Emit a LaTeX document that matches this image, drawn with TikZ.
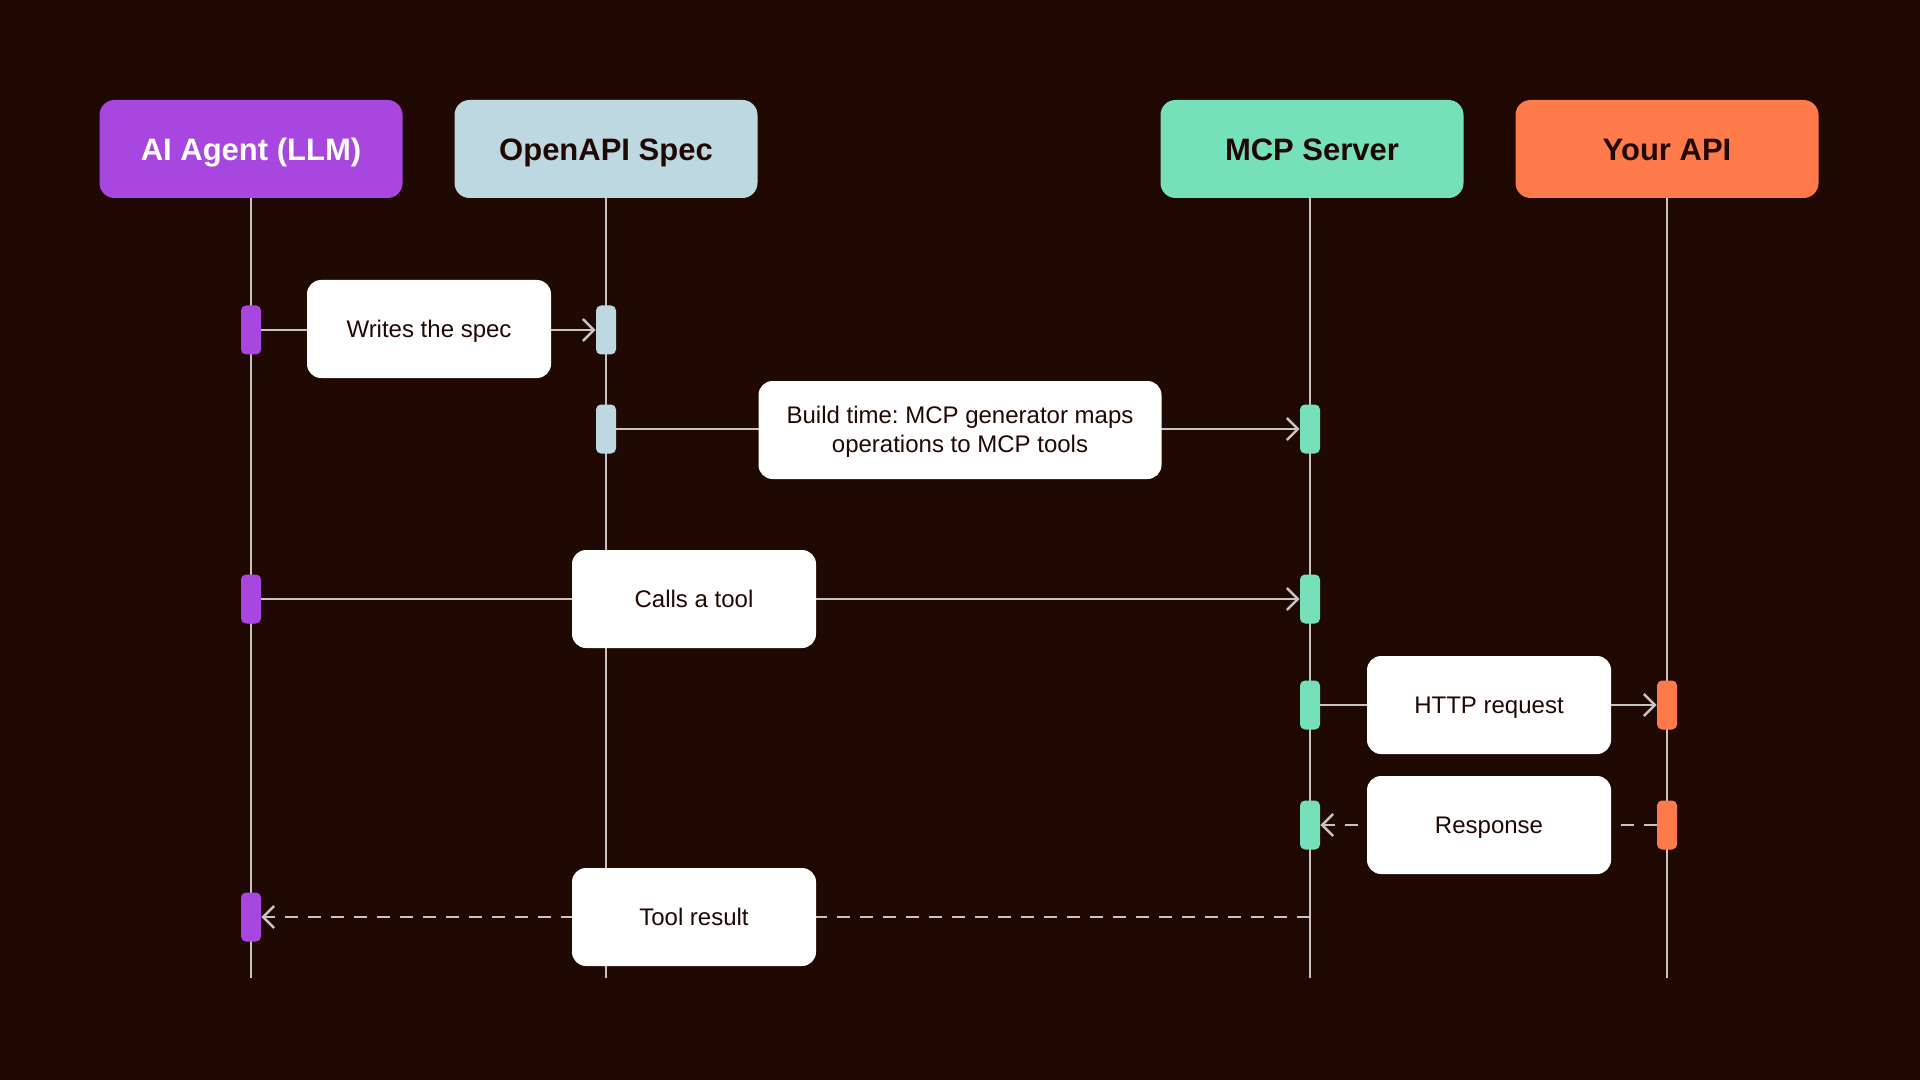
\documentclass[tikz,border=0pt]{standalone}
\usepackage{fontspec}
\setmainfont{Liberation Sans}
\frenchspacing
\usetikzlibrary{arrows.meta,positioning}
\definecolor{cBg}   {RGB}{32,8,3}
\definecolor{cAgent}{RGB}{168,70,224}
\definecolor{cSpec} {RGB}{189,216,224}
\definecolor{cMcp}  {RGB}{118,224,186}
\definecolor{cApi}  {RGB}{255,122,74}
\definecolor{cLine} {RGB}{200,196,196}
\begin{document}
\begin{tikzpicture}[
  x=0.5pt,y=-0.5pt,
  head/.style={rounded corners=7.5pt,minimum width=151.5pt,minimum height=49pt,inner sep=0pt,
              font=\fontsize{15.5}{18}\selectfont\bfseries,text=cBg,text height=12pt,text depth=0pt},
  msg/.style={fill=white,rounded corners=7pt,minimum width=122pt,minimum height=49pt,inner sep=0pt,
              font=\fontsize{12}{14.5}\selectfont,text=cBg,align=center,text height=8.2pt,text depth=0pt},
  act/.style={rounded corners=2.5pt,minimum width=10pt,minimum height=24.5pt,inner sep=0pt},
  life/.style={cLine,line width=1.2pt},
  call/.style={-{Straight Barb[length=5.5pt,width=11pt]},cLine,line width=1.2pt},
  ret/.style={call,dash pattern=on 6.5pt off 5pt},
]
\fill[cBg] (0,0) rectangle (1920,1080);
% participants
\node[head,fill=cAgent,text=white] (agent) at (251,149) {AI Agent (LLM)};
\node[head,fill=cSpec] (spec) at (606,149) {OpenAPI Spec};
\node[head,fill=cMcp] (mcp) at (1312,149) {MCP Server};
\node[head,fill=cApi] (api) at (1667,149) {Your API};
% lifelines
\coordinate (agentEnd) at (251,978);
\coordinate (specEnd) at (606,978);
\coordinate (mcpEnd) at (1310,978);
\coordinate (apiEnd) at (1667,978);
\draw[life] (agent.south) -- (agentEnd);
\draw[life] (spec.south) -- (specEnd);
\draw[life] (mcp.south -| mcpEnd) -- (mcpEnd);
\draw[life] (api.south) -- (apiEnd);
% activations
\node[act,fill=cAgent] (a1) at (251,330) {};
\node[act,fill=cSpec] (s1) at (606,330) {};
\node[act,fill=cSpec] (s2) at (606,429) {};
\node[act,fill=cMcp] (m2) at (1310,429) {};
\node[act,fill=cAgent] (a3) at (251,599) {};
\node[act,fill=cMcp] (m3) at (1310,599) {};
\node[act,fill=cMcp] (m4) at (1310,705) {};
\node[act,fill=cApi] (p4) at (1667,705) {};
\node[act,fill=cMcp] (m5) at (1310,825) {};
\node[act,fill=cApi] (p5) at (1667,825) {};
\node[act,fill=cAgent] (a6) at (251,917) {};
\coordinate (m6) at (1310,917);
% messages
\draw[call] (a1) -- (s1);
\draw[call] (s2) -- (m2);
\draw[call] (a3) -- (m3);
\draw[call] (m4) -- (p4);
\draw[ret] (p5) -- (m5);
\draw[ret] (m6) -- (a6);
\node[msg] (writes) at (429,329) {Writes the spec};
\node[msg,minimum width=201.5pt,text height=22.7pt] (build) at (960,430) {Build time: MCP generator maps\\operations to MCP tools};
\node[msg] (calls) at (694,599) {Calls a tool};
\node[msg] (http) at (1489,705) {HTTP request};
\node[msg] (resp) at (1489,825) {Response};
\node[msg] (result) at (694,917) {Tool result};
\end{tikzpicture}
\end{document}
